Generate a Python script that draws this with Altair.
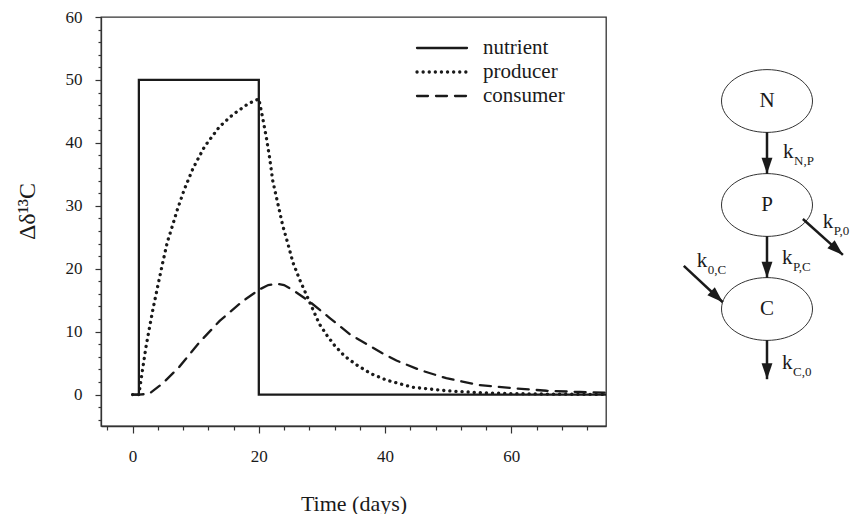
import math
import altair as alt
import pandas as pd

# ---------------- data ----------------
series_names = ["nutrient", "producer", "consumer"]

nutrient_t = [0, 1, 1, 20, 20, 75]
nutrient_v = [0, 0, 50, 50, 0, 0]

producer_t = [0, 1, 1.5, 2.1, 2.75, 3.2, 3.9, 4.7, 5.5, 6.25, 7.1, 8.2, 9.6, 11.4, 13.8,
              15.9, 18.3, 20.0, 20.6, 21.2, 21.7, 22.2, 23.0, 23.8, 24.6, 25.4, 26.5, 28.0,
              29.6, 30.8, 32.0, 33.6, 35.5, 37.8, 40.2, 44.4, 49.7, 55.0, 60.0, 65.0, 70.0, 75.0]
producer_v = [0, 0, 3.4, 7.4, 11.0, 13.4, 16.8, 20.6, 24.2, 26.6, 29.4, 32.6, 36.0, 39.4, 42.6,
              44.5, 46.2, 47.0, 44.0, 40.8, 37.7, 34.0, 30.4, 26.8, 24.0, 21.0, 18.2, 14.8,
              11.2, 9.4, 7.8, 6.1, 4.7, 3.3, 2.3, 1.15, 0.6, 0.3, 0.15, 0.08, 0.04, 0.02]

consumer_t = [0, 1, 2.6, 4.8, 7.4, 10.6, 13.8, 17.4, 20.1, 21.5, 22.8, 24.0, 25.4, 28.0,
              31.2, 34.4, 39.5, 41.8, 45.5, 49.7, 55.0, 60.3, 65.6, 70.9, 75.0]
consumer_v = [0, 0, 0.1, 1.8, 4.4, 8.3, 11.7, 14.8, 16.7, 17.4, 17.6, 17.4, 16.6, 14.8,
              12.2, 9.6, 6.6, 5.4, 3.9, 2.6, 1.5, 1.0, 0.6, 0.4, 0.3]

x_ticks = list(range(-4, 73, 4))
y_ticks = list(range(-4, 61, 2))

# compartment diagram (abstract layout units)
node_labels = ["N", "P", "C"]
node_col = [0, 0, 0]
node_row = [0, 2, 4]

arrow_x0 = [0, 0, 0, 0.69, -1.6]
arrow_y0 = [0.6, 2.6, 4.6, 2.27, 3.17]
arrow_x1 = [0, 0, 0, 1.46, -0.85]
arrow_y1 = [1.4, 3.4, 5.35, 2.96, 3.87]

rate_sub = ["N,P", "P,C", "C,0", "P,0", "0,C"]
rate_x = [0.31, 0.29, 0.29, 1.07, -1.35]
rate_y = [0.98, 3.02, 5.04, 2.33, 3.08]

# ---------------- tables ----------------
rows = []
for name, ts, vs in [("nutrient", nutrient_t, nutrient_v),
                     ("producer", producer_t, producer_v),
                     ("consumer", consumer_t, consumer_v)]:
    for i, (t, v) in enumerate(zip(ts, vs)):
        rows.append({"series": name, "t": t, "v": v, "idx": i})
lines_df = pd.DataFrame(rows)

legend_df = pd.DataFrame({"series": series_names, "row": list(range(len(series_names))),
                          "s0": [0] * len(series_names), "s1": [1] * len(series_names)})

nodes_df = pd.DataFrame({"label": node_labels, "dx": node_col, "dy": node_row})
arrows_df = pd.DataFrame({"x0": arrow_x0, "y0": arrow_y0, "x1": arrow_x1, "y1": arrow_y1})
arrows_df["ang"] = [
    (math.degrees(math.atan2(-(b - a), (d - c))) + 360) % 360
    for a, b, c, d in zip(arrow_x0, arrow_x1, arrow_y0, arrow_y1)
]
rates_df = pd.DataFrame({"k": ["k"] * len(rate_sub), "sub": rate_sub, "dx": rate_x, "dy": rate_y})

FONT = "Liberation Serif, DejaVu Serif, Times New Roman, serif"
INK = "#1a1a1a"

dash_scale = alt.Scale(type="ordinal", domain=series_names, range=[[1, 0], [0.1, 6], [11, 8]])
width_scale = alt.Scale(type="ordinal", domain=series_names, range=[2.3, 3.3, 2.3])

# ---------------- main plot ----------------
lines = alt.Chart(lines_df).mark_line(strokeCap="round", color=INK, clip=True).encode(
    x=alt.X("t:Q", title="Time (days)",
            scale=alt.Scale(domain=[-5, 75], nice=False, zero=False),
            axis=alt.Axis(values=x_ticks,
                          tickSize={"condition": {"test": "datum.value % 20 === 0", "value": 7}, "value": 4},
                          labelExpr="datum.value % 20 === 0 ? datum.label : ''",
                          labelPadding=15, labelFontSize=17, labelOverlap=False, labelFlush=False,
                          titleFontSize=22, titleY=77, titleBaseline="middle", grid=False)),
    y=alt.Y("v:Q", title="Δδ¹³C",
            scale=alt.Scale(domain=[-5, 60], nice=False, zero=False),
            axis=alt.Axis(values=y_ticks,
                          tickSize={"condition": {"test": "datum.value % 10 === 0", "value": 6}, "value": 3},
                          labelExpr="datum.value % 10 === 0 ? datum.label : ''",
                          labelPadding=13, labelFontSize=17, labelOverlap=False, labelFlush=False,
                          titleFontSize=24, titleX=-74, titleY=194, titleBaseline="middle",
                          titleAlign="center", grid=False)),
    strokeDash=alt.StrokeDash("series:N", scale=dash_scale, legend=None),
    strokeWidth=alt.StrokeWidth("series:N", scale=width_scale, legend=None),
    order="idx:Q",
)

# ---------------- legend (drawn inside the plot) ----------------
LX = alt.Scale(domain=[0, 1], range=[316, 366], nice=False, zero=False)
LY = alt.Scale(domain=[0, 2], range=[31, 79], nice=False, zero=False)

legend_lines = alt.Chart(legend_df).mark_rule(strokeCap="round", color=INK).encode(
    x=alt.X("s0:Q", scale=LX, axis=None), x2="s1:Q",
    y=alt.Y("row:Q", scale=LY, axis=None),
    strokeDash=alt.StrokeDash("series:N", scale=dash_scale, legend=None),
    strokeWidth=alt.StrokeWidth("series:N", scale=width_scale, legend=None),
)
legend_text = alt.Chart(legend_df).mark_text(font=FONT, fontSize=21, color=INK, align="left",
                                            baseline="middle", dx=16).encode(
    x=alt.X("s1:Q", scale=LX, axis=None), y=alt.Y("row:Q", scale=LY, axis=None), text="series:N")

# ---------------- compartment diagram ----------------
DX = alt.Scale(domain=[-1, 1], range=[614, 718], nice=False, zero=False)
DY = alt.Scale(domain=[0, 4], range=[84, 292], nice=False, zero=False)

ellipses = alt.Chart(nodes_df).mark_point(
    shape="M-1,0A1,0.69,0,1,0,1,0A1,0.69,0,1,0,-1,0Z",
    size=8281, filled=False, stroke="#333333", strokeWidth=1, opacity=1,
).encode(x=alt.X("dx:Q", scale=DX, axis=None), y=alt.Y("dy:Q", scale=DY, axis=None))

node_text = alt.Chart(nodes_df).mark_text(font=FONT, fontSize=21, color=INK, align="center",
                                         baseline="middle").encode(
    x=alt.X("dx:Q", scale=DX, axis=None), y=alt.Y("dy:Q", scale=DY, axis=None), text="label:N")

shafts = alt.Chart(arrows_df).mark_rule(strokeWidth=2.5, color=INK).encode(
    x=alt.X("x0:Q", scale=DX, axis=None), y=alt.Y("y0:Q", scale=DY, axis=None),
    x2="x1:Q", y2="y1:Q")

heads = alt.Chart(arrows_df).mark_point(
    shape="M0,0L-0.34,-1L0.34,-1Z", size=1024, filled=True, color=INK, opacity=1,
).encode(x=alt.X("x1:Q", scale=DX, axis=None), y=alt.Y("y1:Q", scale=DY, axis=None),
         angle=alt.Angle("ang:Q", scale=None))

k_text = alt.Chart(rates_df).mark_text(font=FONT, fontSize=21, color=INK, align="left",
                                      baseline="middle").encode(
    x=alt.X("dx:Q", scale=DX, axis=None), y=alt.Y("dy:Q", scale=DY, axis=None), text="k:N")

sub_text = alt.Chart(rates_df).mark_text(font=FONT, fontSize=13, color=INK, align="left",
                                        baseline="middle", dx=11, dy=9).encode(
    x=alt.X("dx:Q", scale=DX, axis=None), y=alt.Y("dy:Q", scale=DY, axis=None), text="sub:N")

chart = alt.layer(lines, legend_lines, legend_text, ellipses, node_text, shafts, heads,
                  k_text, sub_text).resolve_scale(
    x="independent", y="independent", strokeDash="shared", strokeWidth="shared"
).properties(
    width=505, height=409,
    autosize=alt.AutoSizeParams(type="none"),
    padding={"left": 93, "top": 9, "right": 244, "bottom": 88},
    background="white",
).configure_view(
    stroke="#333333", strokeWidth=1.3
).configure_axis(
    labelFont=FONT, titleFont=FONT, titleFontWeight="normal", labelColor=INK, titleColor=INK,
    domainColor="#333333", domainWidth=1.3, tickColor="#333333", tickWidth=1.2,
).configure_text(font=FONT)

chart.save("out.html", embed_options={"renderer": "svg", "actions": False})
